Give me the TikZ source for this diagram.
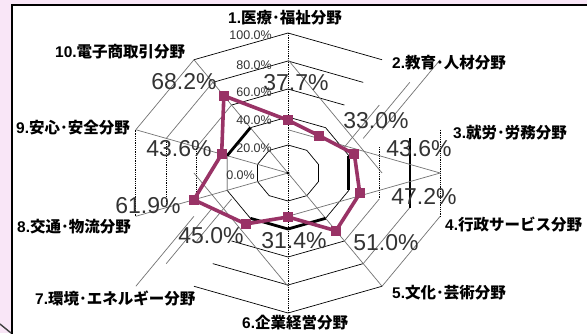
\documentclass[tikz,border=0pt]{standalone}
\usepackage{fontspec}
\setmainfont{Liberation Sans}
\newfontfamily\jp{Noto Sans CJK JP}
\usetikzlibrary{calc}
\definecolor{plum}{HTML}{993366}
\definecolor{bgpink}{HTML}{F9E6F7}
\begin{document}
\begin{tikzpicture}[x=1pt,y=-1pt,
  grid/.style={black, line width=0.7pt},
  ghost/.style={black!55, line width=0.7pt},
  dotv/.style={black, line width=0.8pt, dash pattern=on 0.9pt off 0.9pt},
  thickgrid/.style={black, line width=1.6pt},
  ser/.style={plum, line width=3.6pt, line join=round},
  blk/.style={black, line width=2.8pt, line join=round},
  mk/.style={fill=plum, draw=none, minimum size=10pt, inner sep=0pt, rectangle},
  val/.style={font=\fontsize{23}{23}\selectfont, text=black!80, inner sep=0pt},
  ax/.style={font=\fontsize{12.5}{13}\selectfont, text=black!80, inner sep=0pt, anchor=east},
  cat/.style={font=\bfseries\fontsize{15.5}{16}\selectfont, inner sep=0pt, anchor=west},
]
\useasboundingbox (0,0) rectangle (587,333);
% background and panel
\fill[bgpink] (0,0) rectangle (587,333);
\fill[white] (12,5) rectangle (587,333);
\draw[black, line width=2.5pt] (12,334) -- (12,5) -- (588,5);
\draw[black!75, line width=1.4pt] (0,324) -- (11,333);

\coordinate (c) at (288,173);
\foreach \l in {20,40,60,80,100} {
  \foreach \k in {1,...,10} {
    \coordinate (p\l-\k) at ({288+1.6*\l*sin((\k-1)*36)},{173-1.4*\l*cos((\k-1)*36)});
  }
}

% inner rings
\foreach \l in {20,40} {
  \draw[grid] (p\l-1) -- (p\l-2) -- (p\l-3) -- (p\l-4) -- (p\l-5) -- (p\l-6)
    -- (p\l-7) -- (p\l-8) -- (p\l-9) -- (p\l-10) -- cycle;
}
% outer rings, black parts
\foreach \l in {60,80,100} {
  \draw[grid] (p\l-10) -- (p\l-1) -- (p\l-2);
  \draw[grid] (p\l-5) -- (p\l-6) -- (p\l-7);
  \draw[dotv] (p\l-8) -- (p\l-9);
  % gray parts
  \draw[ghost] (p\l-9) -- (p\l-10);
  \draw[ghost] (p\l-4) -- (p\l-5);
  \draw[ghost] (p\l-3 |- p\l-2) -- (p\l-2 |- p\l-3);
  \draw[ghost] (p\l-8 |- p\l-7) -- (p\l-7 |- p\l-8);
}
\draw[dotv] (p60-3) -- (p60-4);
\draw[thickgrid] (p80-3) -- (p80-4);
\draw[dotv] (p100-3) -- (p100-4);

% spokes
\draw[dotv] (p100-1) -- (p100-6);
\draw[ghost] (p100-10) -- (c);
\draw[ghost] (p100-9) -- (c);
\draw[ghost] (p100-8) -- (c);
\draw[ghost] (c) -- (p100-5);
\draw[ghost] (c |- p100-2) -- (p100-2 |- c);
\draw[ghost] (c |- p100-3) -- (p100-3 |- c);
\draw[ghost] (c |- p100-4) -- (p100-4 |- c);
\draw[ghost] (c |- p100-7) -- (p100-7 |- c);
\fill[black] (c) circle (1.6);

% black series (visible parts)
\draw[blk] (p40-10) -- (p40-9);
\draw[blk] (p40-3) -- (p40-4);
\draw[blk] (p40-5) -- (p40-6) -- (p40-7);

% magenta series
\foreach \k/\v in {1/37.7,2/33.0,3/43.6,4/47.2,5/51.0,6/31.4,7/45.0,8/61.9,9/43.6,10/68.2} {
  \coordinate (m\k) at ({288+1.6*\v*sin((\k-1)*36)},{173-1.4*\v*cos((\k-1)*36)});
}
\draw[ser] (m1) -- (m2) -- (m3) -- (m4) -- (m5) -- (m6) -- (m7) -- (m8) -- (m9) -- (m10) -- cycle;
\foreach \k in {1,...,10} { \node[mk] (mk\k) at (m\k) {}; }

% axis value labels
\node[ax] (a100) at (272,35) {100.0\%};
\node[ax] (a80) at (272,65) {80.0\%};
\node[ax] (a60) at (272,92) {60.0\%};
\node[ax] (a40) at (272,120) {40.0\%};
\node[ax] (a20) at (272,148) {20.0\%};
\node[ax] (a0) at (255,175) {0.0\%};

% data labels
\node[val] (v1) at (296,83) {37.7\%};
\node[val] (v2) at (376,121) {33.0\%};
\node[val] (v3) at (419,149) {43.6\%};
\node[val] (v4) at (424,197) {47.2\%};
\node[val] (v5) at (386,243) {51.0\%};
\node[val] (v6) at (294,241) {31.4\%};
\node[val] (v7) at (211,236) {45.0\%};
\node[val] (v8) at (148,206) {61.9\%};
\node[val] (v9) at (179,149) {43.6\%};
\node[val] (v10) at (184,82) {68.2\%};

% category labels
\node[cat] (c1) at (228,18) {1.{\jp 医療･福祉分野}};
\node[cat] (c2) at (392,63) {2.{\jp 教育･人材分野}};
\node[cat] (c3) at (453,133) {3.{\jp 就労･労務分野}};
\node[cat] (c4) at (445,225) {4.{\jp 行政サービス分野}};
\node[cat] (c5) at (392,293) {5.{\jp 文化･芸術分野}};
\node[cat] (c6) at (242,323) {6.{\jp 企業経営分野}};
\node[cat] (c7) at (35,298) {7.{\jp 環境･エネルギー分野}};
\node[cat] (c8) at (17,227) {8.{\jp 交通･物流分野}};
\node[cat] (c9) at (16,128) {9.{\jp 安心･安全分野}};
\node[cat] (c10) at (55,52) {10.{\jp 電子商取引分野}};
\end{tikzpicture}
\end{document}
